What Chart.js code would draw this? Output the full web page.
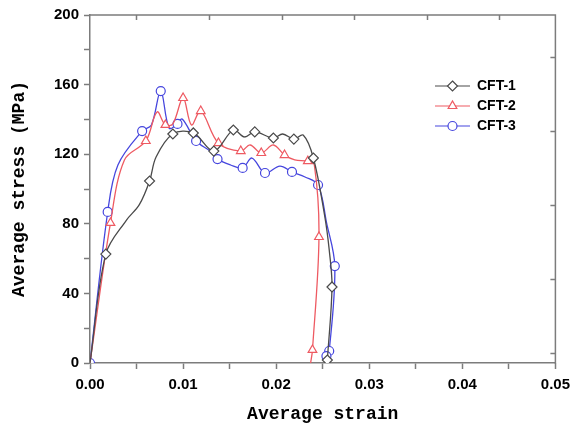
<!DOCTYPE html>
<html>
<head>
<meta charset="utf-8">
<script src="https://cdn.jsdelivr.net/npm/chart.js@4/dist/chart.umd.min.js"></script>
<style>
  html, body { margin: 0; padding: 0; background: #ffffff; }
  #wrap { width: 577px; height: 431px; }
</style>
</head>
<body>
<div id="wrap"><canvas id="c" width="577" height="431"></canvas></div>
<script>
// ---------------- DATA ----------------
const seriesNames = ['CFT-1', 'CFT-2', 'CFT-3'];

const cft1Strain = [0, 0.0017, 0.0039, 0.0053, 0.0064, 0.0071, 0.0089, 0.0111, 0.0133, 0.0154, 0.0166, 0.0177, 0.0197, 0.0207, 0.0219, 0.0229, 0.0240, 0.0252, 0.0257, 0.0260, 0.0255];
const cft1Stress = [0, 62.6, 82, 91, 104.6, 118.4, 131.6, 132.2, 121.8, 133.9, 129.9, 132.8, 129.3, 131.6, 128.7, 131, 117.8, 85, 65, 43.7, 1.7];

const cft2Strain = [0, 0.0022, 0.0037, 0.0060, 0.0072, 0.0081, 0.0089, 0.0100, 0.0109, 0.0119, 0.0138, 0.0162, 0.0172, 0.0184, 0.0197, 0.0209, 0.0220, 0.0234, 0.0241, 0.0246, 0.0239, 0.0237];
const cft2Stress = [0, 80.5, 116.7, 127.6, 144.3, 136.8, 137.4, 152.3, 136.8, 144.8, 126.4, 121.8, 125.3, 120.7, 125.3, 119.5, 116.7, 116, 113.8, 72.4, 7.5, 0];

const cft3Strain = [0, 0.0019, 0.0030, 0.0056, 0.0066, 0.0076, 0.0085, 0.0094, 0.0099, 0.0114, 0.0129, 0.0137, 0.0151, 0.0164, 0.0174, 0.0188, 0.0204, 0.0217, 0.0231, 0.0245, 0.0254, 0.0263, 0.0257, 0.0254];
const cft3Stress = [0, 86.8, 113.8, 133.3, 136.8, 156.3, 135, 137.4, 140.2, 127.6, 121.8, 117.2, 113.8, 112.1, 117.8, 109.2, 113.2, 109.8, 106.9, 102.3, 81, 55.7, 6.9, 4];

const xTickMin = 0, xTickMax = 0.05, xMinorStep = 0.005, xMajorStep = 0.01;
const yTickMin = 0, yTickMax = 200, yMinorStep = 20, yMajorStep = 40;
const xTitle = 'Average strain';
const yTitle = 'Average stress (MPa)';
// mirrored (top / right) frame ticks
const topTickValues = [0, 1, 2, 3, 4, 5];
const rightTickValues = [0, 1, 2, 3, 4];

// ---------------- STYLE ----------------
const AXIS_COLOR = '#7c7c7c';
const colors = ['#4a4a4a', '#ee5a62', '#4646de'];
const pointStyles = ['rectRot', 'triangle', 'circle'];
const pointRadii = [5, 5, 4.5];
// which points carry a marker (others are curve-only)
const markedIdx = [
  [1, 4, 6, 7, 8, 9, 11, 12, 14, 16, 19, 20],
  [1, 3, 5, 7, 9, 10, 11, 13, 15, 17, 19, 20],
  [0, 1, 3, 5, 7, 9, 11, 13, 15, 17, 19, 21, 22, 23]
];

const strains = [cft1Strain, cft2Strain, cft3Strain];
const stresses = [cft1Stress, cft2Stress, cft3Stress];

const datasets = seriesNames.map((name, s) => ({
  label: name,
  data: strains[s].map((x, i) => ({ x: x, y: stresses[s][i] })),
  borderColor: colors[s],
  backgroundColor: '#ffffff',
  borderWidth: 1.3,
  tension: 0.35,
  pointStyle: pointStyles[s],
  pointBorderColor: colors[s],
  pointBackgroundColor: '#ffffff',
  pointBorderWidth: 1.2,
  pointRadius: (ctx) => markedIdx[s].includes(ctx.dataIndex) ? pointRadii[s] : 0,
  pointHoverRadius: 0,
  fill: false
}));

function isMultiple(v, step) {
  const r = v / step;
  return Math.abs(r - Math.round(r)) < 1e-6;
}

function drawMarker(ctx, style, x, y, r) {
  ctx.beginPath();
  if (style === 'rectRot') {
    ctx.moveTo(x, y - r); ctx.lineTo(x + r, y); ctx.lineTo(x, y + r); ctx.lineTo(x - r, y); ctx.closePath();
  } else if (style === 'triangle') {
    const side = r * 3 / Math.sqrt(3);
    const h = side * Math.sqrt(3) / 2;
    ctx.moveTo(x - side / 2, y + h / 3); ctx.lineTo(x + side / 2, y + h / 3); ctx.lineTo(x, y - 2 * h / 3); ctx.closePath();
  } else {
    ctx.arc(x, y, r, 0, Math.PI * 2);
  }
  ctx.fill(); ctx.stroke();
}

const framePlugin = {
  id: 'frame',
  afterDraw(chart) {
    const { ctx, chartArea: a, scales } = chart;
    ctx.save();
    ctx.strokeStyle = AXIS_COLOR;
    ctx.lineWidth = 1.5;
    ctx.beginPath();
    ctx.moveTo(a.left, a.top); ctx.lineTo(a.right, a.top); ctx.lineTo(a.right, a.bottom + 1);
    const x2 = scales.x2, y2 = scales.y2;
    topTickValues.forEach(v => { const px = Math.round(x2.getPixelForValue(v)) + 0.5; ctx.moveTo(px, a.top); ctx.lineTo(px, a.top + 5); });
    rightTickValues.forEach(v => { const py = Math.round(y2.getPixelForValue(v)) + 0.5; ctx.moveTo(a.right, py); ctx.lineTo(a.right - 5, py); });
    ctx.stroke();

    // legend (line + marker + label) in the upper right of the plot
    const lx0 = a.left + 345, lx1 = a.left + 380, ly0 = a.top + 71, dy = 20;
    ctx.font = 'bold 14px "Liberation Sans", Arial, sans-serif';
    ctx.textBaseline = 'middle';
    ctx.textAlign = 'left';
    chart.data.datasets.forEach((ds, s) => {
      const y = ly0 + s * dy;
      ctx.strokeStyle = colors[s];
      ctx.lineWidth = 1.2;
      ctx.beginPath(); ctx.moveTo(lx0, y); ctx.lineTo(lx1, y); ctx.stroke();
      ctx.fillStyle = '#ffffff';
      drawMarker(ctx, pointStyles[s], (lx0 + lx1) / 2, y, pointRadii[s]);
      ctx.fillStyle = '#000000';
      ctx.fillText(ds.label, lx1 + 7, y);
    });
    ctx.restore();
  }
};

const tickFont = { family: '"Liberation Sans", Arial, sans-serif', size: 15, weight: 'bold' };
const titleFont = { family: '"Liberation Mono", "DejaVu Sans Mono", monospace', size: 18, weight: 'bold' };

new Chart(document.getElementById('c'), {
  type: 'line',
  data: { datasets: datasets },
  plugins: [framePlugin],
  options: {
    responsive: false,
    animation: false,
    devicePixelRatio: 1,
    layout: { padding: { top: 15, right: 16, left: 0, bottom: 0 } },
    plugins: { legend: { display: false }, tooltip: { enabled: false } },
    scales: {
      x: {
        type: 'linear', position: 'bottom',
        min: xTickMin, max: xTickMax,
        afterFit: (s) => { s.height = 68; },
        ticks: {
          stepSize: xMinorStep, autoSkip: false, maxRotation: 0, padding: 7,
          color: '#000', font: tickFont,
          callback: (v) => isMultiple(v, xMajorStep) ? v.toFixed(2) : ''
        },
        grid: { drawOnChartArea: false, drawTicks: true, tickLength: 6, tickColor: AXIS_COLOR, tickWidth: 1.5 },
        border: { display: true, color: AXIS_COLOR, width: 1.5 },
        title: { display: true, text: xTitle, color: '#000', font: titleFont, padding: { top: 0, bottom: 6 } }
      },
      y: {
        type: 'linear', position: 'left',
        min: yTickMin, max: yTickMax,
        afterFit: (s) => { s.width = 90; },
        ticks: {
          stepSize: yMinorStep, autoSkip: false, padding: 5,
          color: '#000', font: tickFont,
          callback: (v) => isMultiple(v, yMajorStep) ? String(v) : ''
        },
        grid: { drawOnChartArea: false, drawTicks: true, tickLength: 6, tickColor: AXIS_COLOR, tickWidth: 1.5 },
        border: { display: true, color: AXIS_COLOR, width: 1.5 },
        title: { display: true, text: yTitle, color: '#000', font: titleFont, padding: { top: 9, bottom: 0 } }
      },
      x2: {
        type: 'linear', position: 'top', display: false,
        min: -0.64, max: 5.77,
        afterBuildTicks: (s) => { s.ticks = topTickValues.map(v => ({ value: v })); }
      },
      y2: {
        type: 'linear', position: 'right', display: false,
        min: -0.135, max: 4.568,
        afterBuildTicks: (s) => { s.ticks = rightTickValues.map(v => ({ value: v })); }
      }
    }
  }
});
</script>
</body>
</html>
